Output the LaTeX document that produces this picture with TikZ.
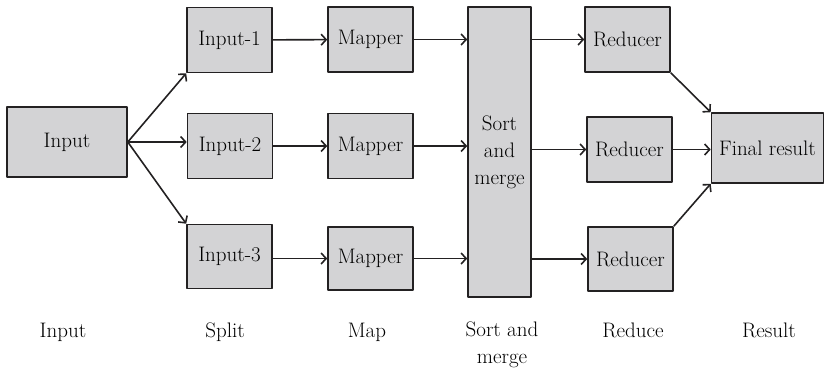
\documentclass[tikz,border=0pt]{standalone}
\usepackage{fontspec}
\usetikzlibrary{arrows.meta}
\definecolor{boxfill}{RGB}{211,211,213}
\definecolor{inkdark}{RGB}{35,33,34}
\tikzset{
  stagebox/.style={draw=inkdark,line width=1.6bp,fill=boxfill,inner sep=0pt,
    font=\fontsize{21bp}{27bp}\selectfont,align=center},
  stagelabel/.style={anchor=base,inner sep=0pt,font=\fontsize{21bp}{27bp}\selectfont,align=center},
}
\begin{document}
\begin{tikzpicture}[>={Straight Barb[length=5bp,width=11bp,line width=1.6bp]},line join=bevel,]
\useasboundingbox (0bp,0bp) rectangle (824bp,-370bp);
%%
\node (node_0) at (67bp,-142bp) [stagebox,minimum width=120bp,minimum height=70bp] {Input};
  \node (node_1) at (229.5bp,-40bp) [stagebox,minimum width=85bp,minimum height=65bp] {Input-1};
  \node (node_2) at (230bp,-146bp) [stagebox,minimum width=85bp,minimum height=65bp] {Input-2};
  \node (node_3) at (229.5bp,-256.5bp) [stagebox,minimum width=85bp,minimum height=64bp] {Input-3};
  \node (node_4) at (370.5bp,-39.5bp) [stagebox,minimum width=85bp,minimum height=65bp] {Mapper};
  \node (node_5) at (370.5bp,-146bp) [stagebox,minimum width=85bp,minimum height=65bp] {Mapper};
  \node (node_6) at (370.5bp,-258.5bp) [stagebox,minimum width=85bp,minimum height=63bp] {Mapper};
  \node (node_7) at (499.5bp,-152bp) [stagebox,minimum width=63bp,minimum height=290bp] {Sort\\and\\merge};
  \node (node_8) at (627.5bp,-39.5bp) [stagebox,minimum width=85bp,minimum height=65bp] {Reducer};
  \node (node_9) at (629.5bp,-149.5bp) [stagebox,minimum width=85bp,minimum height=65bp] {Reducer};
  \node (node_10) at (630.5bp,-259bp) [stagebox,minimum width=85bp,minimum height=64bp] {Reducer};
  \node (node_11) at (767.5bp,-148bp) [stagebox,minimum width=112bp,minimum height=70bp] {Final result};
%
  \draw [inkdark,line width=1.6bp,->] (node_0.east) -- (node_1.south west);
  \draw [inkdark,line width=1.6bp,->] (node_0.east) -- (node_2.west |- node_0.east);
  \draw [inkdark,line width=1.6bp,->] (node_0.east) -- (node_3.north west);
  \draw [inkdark,line width=1.6bp,->] (node_1) -- (node_4);
  \draw [inkdark,line width=1.6bp,->] (node_2) -- (node_5);
  \draw [inkdark,line width=1.6bp,->] (node_3.east |- node_6.west) -- (node_6);
  \draw [inkdark,line width=1.6bp,->] (node_4.east) -- (node_4.east -| node_7.west);
  \draw [inkdark,line width=1.6bp,->] (node_5.east) -- (node_5.east -| node_7.west);
  \draw [inkdark,line width=1.6bp,->] (node_6.east) -- (node_6.east -| node_7.west);
  \draw [inkdark,line width=1.6bp,->] (node_8.west -| node_7.east) -- (node_8.west);
  \draw [inkdark,line width=1.6bp,->] (node_9.west -| node_7.east) -- (node_9.west);
  \draw [inkdark,line width=1.6bp,->] (node_10.west -| node_7.east) -- (node_10.west);
  \draw [inkdark,line width=1.6bp,->] (node_8.south east) -- (node_11.north west);
  \draw [inkdark,line width=1.6bp,->] (node_9.east) -- (node_9.east -| node_11.west);
  \draw [inkdark,line width=1.6bp,->] (node_10.north east) -- (node_11.south west);
%
  \node (node_12) at (63bp,-337bp) [stagelabel] {Input};
  \node (node_13) at (225bp,-337bp) [stagelabel] {Split};
  \node (node_14) at (367bp,-337bp) [stagelabel] {Map};
  \node (node_15) at (502bp,-363bp) [stagelabel] {Sort and\\merge};
  \node (node_16) at (633bp,-337bp) [stagelabel] {Reduce};
  \node (node_17) at (769bp,-337bp) [stagelabel] {Result};
%
\end{tikzpicture}
\end{document}
